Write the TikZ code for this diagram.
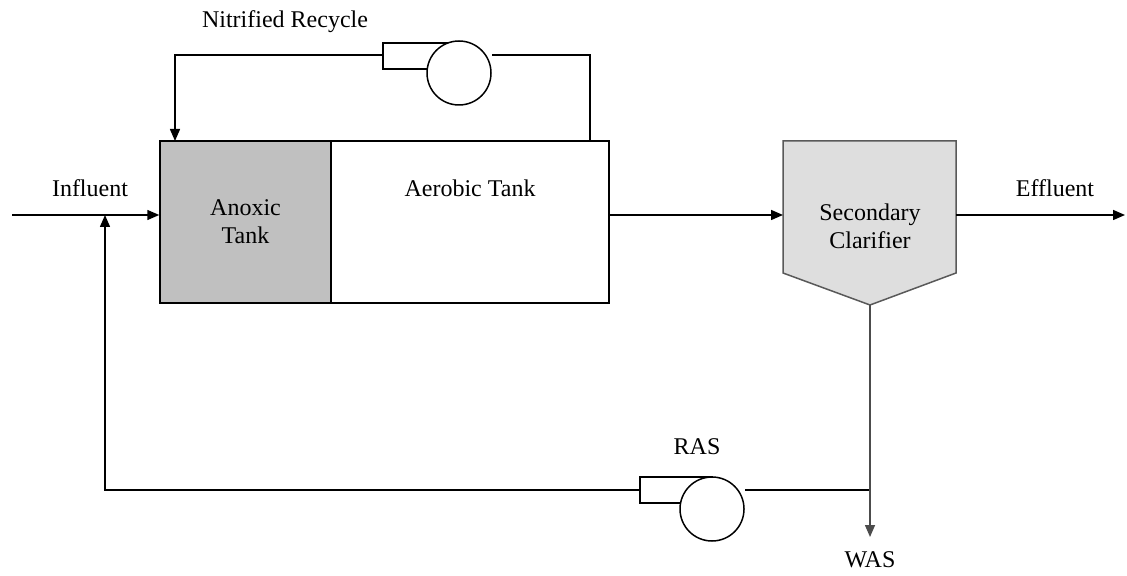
\documentclass[tikz,border=0pt]{standalone}
\usepackage{fontspec}
\setmainfont{Liberation Serif}
\usepackage{xcolor}
\usetikzlibrary{arrows.meta}

\definecolor{anoxicgray}{HTML}{C0C0C0}
\definecolor{clargray}{HTML}{DEDEDE}

\begin{document}
\begin{tikzpicture}[x=0.5pt, y=-0.5pt, line width=0.75pt,
        font=\fontsize{12}{14}\selectfont,
        flow/.style={-{Triangle[length=6pt, width=5pt]}},
        tank/.style={draw, minimum height=81pt, inner sep=0pt, align=center},
        pumpcase/.style={draw, fill=white},
        pumpwheel/.style={draw, fill=white, circle, minimum size=32pt, inner sep=0pt}]
        \useasboundingbox (0, 0) rectangle (1127, 576);

        % tanks
        \node[tank, fill=anoxicgray, minimum width=85.5pt] (anoxic) at (245.5, 222) {Anoxic\\Tank};
        \node[tank, fill=white, minimum width=139pt] (aerobic) at (470, 222) {};
        \node (aerobiclabel) at (470, 188) {Aerobic Tank};

        % clarifier
        \draw[fill=clargray, draw=black!65] (783, 141) -- (956, 141) -- (956, 273)
            -- (870, 305) -- (783, 273) -- cycle;
        \node[align=center] (clar) at (870, 226) {Secondary\\Clarifier};
        \coordinate (clartip) at (870, 305);

        % main flow
        \coordinate (in) at (12, 215);
        \coordinate (out) at (1125, 215);
        \draw[flow] (in) -- (in -| anoxic.west);
        \draw[flow] (in -| aerobic.east) -- (783, 215);
        \draw[flow] (956, 215) -- (out);
        \node (influent) at (90, 188) {Influent};
        \node (effluent) at (1055, 188) {Effluent};

        % nitrified recycle pump
        \draw[pumpcase] (383, 43) rectangle (459, 69);
        \node[pumpwheel] (nrpump) at (459, 73) {};
        \draw (590, 141) |- (nrpump.east |- 0, 55);
        \draw[flow] (383, 55) -| (175, 141);
        \node (nrlabel) at (285, 22) {Nitrified Recycle};

        % return sludge pump
        \draw[pumpcase] (640, 477) rectangle (712, 503);
        \node[pumpwheel] (raspump) at (712, 509) {};
        \coordinate (split) at (870, 490);
        \draw (split) -- (raspump.east |- split);
        \draw[flow] (640, 490) -| (105, 215);
        \node (raslabel) at (697, 447) {RAS};

        \draw[flow, draw=black!70] (clartip) -- (870, 537);
        \node (waslabel) at (870, 560) {WAS};

    \end{tikzpicture}
\end{document}
